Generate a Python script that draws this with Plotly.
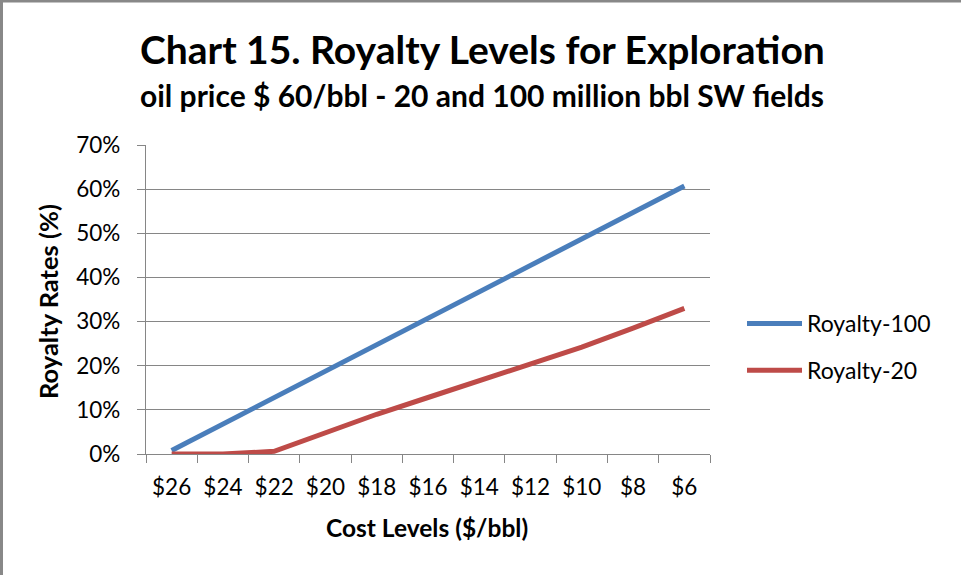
import plotly.graph_objects as go

cost_levels = ["$26", "$24", "$22", "$20", "$18", "$16", "$14", "$12", "$10", "$8", "$6"]
royalty_100 = [0.008, 0.068, 0.128, 0.188, 0.248, 0.308, 0.368, 0.428, 0.488, 0.548, 0.607]
royalty_20 = [0.0, 0.0, 0.006, 0.048, 0.090, 0.128, 0.165, 0.203, 0.242, 0.285, 0.330]

FONT = "Lato"
GRID = "#868686"

fig = go.Figure()
fig.add_trace(go.Scatter(x=cost_levels, y=royalty_100, mode="lines", name="Royalty-100",
                         line=dict(color="#4A7EBB", width=5), legendgroup="a"))
fig.add_trace(go.Scatter(x=cost_levels, y=royalty_20, mode="lines", name="Royalty-20",
                         line=dict(color="#BE4B48", width=5), legendgroup="b"))

W, H = 961, 575
L, R, T, B = 146, 251, 145, 121
pw, ph = W - L - R, H - T - B

def px(x):
    return (x - L) / pw

def py(y):
    return (H - B - y) / ph

fig.update_layout(
    width=W, height=H,
    margin=dict(l=L, r=R, t=T, b=B, autoexpand=False),
    paper_bgcolor="white", plot_bgcolor="white",
    font=dict(family=FONT, color="black"),
    showlegend=True,
    legend=dict(x=px(742), y=py(302), xanchor="left", yanchor="top",
                font=dict(size=23, family=FONT), itemwidth=55,
                tracegroupgap=14, bgcolor="rgba(0,0,0,0)"),
    annotations=[
        dict(text="<b>Chart 15. Royalty Levels for Exploration</b>", x=px(482), y=py(49),
             xref="paper", yref="paper", showarrow=False, xanchor="center", yanchor="middle",
             font=dict(size=39, family=FONT)),
        dict(text="<b>oil price $ 60/bbl - 20 and 100 million bbl SW fields</b>", x=px(482), y=py(95),
             xref="paper", yref="paper", showarrow=False, xanchor="center", yanchor="middle",
             font=dict(size=30, family=FONT)),
        dict(text="<b>Cost Levels ($/bbl)</b>", x=px(427), y=py(527),
             xref="paper", yref="paper", showarrow=False, xanchor="center", yanchor="middle",
             font=dict(size=24.5, family=FONT)),
        dict(text="<b>Royalty Rates (%)</b>", x=px(48), y=py(302), textangle=-90,
             xref="paper", yref="paper", showarrow=False, xanchor="center", yanchor="middle",
             font=dict(size=25.5, family=FONT)),
    ],
    shapes=[
        dict(type="rect", xref="paper", yref="paper", x0=px(1.5), x1=px(990), y0=py(1), y1=py(600),
             line=dict(color="#888888", width=3), fillcolor="rgba(0,0,0,0)", layer="below"),
    ],
)

fig.update_xaxes(
    type="category", range=[-0.5, 10.5], tickson="boundaries",
    showline=True, linecolor=GRID, linewidth=1.3, ticks="outside", ticklen=8, tickcolor=GRID,
    showgrid=False, tickfont=dict(size=22.5, family=FONT), ticklabelstandoff=13,
)
fig.update_yaxes(
    range=[0, 0.7], dtick=0.1, tickformat=".0%",
    showline=True, linecolor=GRID, linewidth=1.3, ticks="outside", ticklen=8, tickcolor=GRID,
    showgrid=True, gridcolor=GRID, gridwidth=1.3, zeroline=False,
    tickfont=dict(size=22.5, family=FONT), ticklabelstandoff=12,
)

fig.write_html("out.html", config={"displayModeBar": False},
               post_script="document.body.style.margin='0';")
